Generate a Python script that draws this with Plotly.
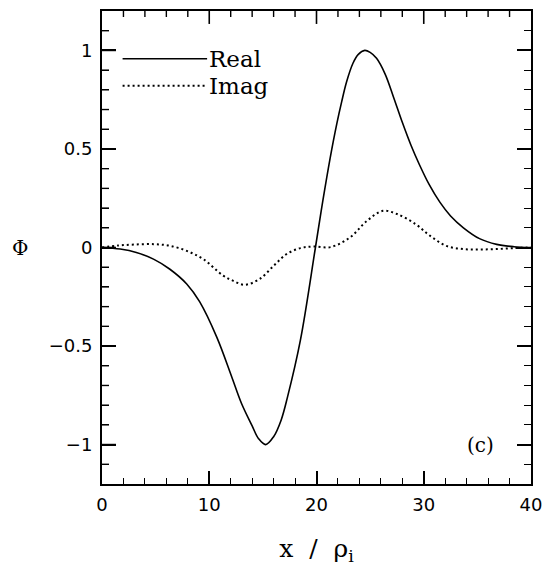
import plotly.graph_objects as go

# --- data ---
x_real = [0, 1.7, 3.2, 4.8, 6.3, 7.9, 9.1, 10.7, 12.1, 13.0, 14.0, 14.6, 15.26,
          16.0, 16.7, 17.3, 18.5, 19.9, 20.6, 21.26, 21.9, 22.35, 22.8, 23.4,
          23.9, 24.5, 25.0, 25.6, 26.4, 27.2, 28.0, 28.8, 29.6, 30.5, 31.5,
          32.5, 33.7, 35.2, 36.8, 38.4, 40]
y_real = [0, -0.008, -0.025, -0.059, -0.109, -0.185, -0.275, -0.455, -0.657,
          -0.79, -0.905, -0.97, -1.0, -0.96, -0.876, -0.758, -0.47, 0.0, 0.24,
          0.45, 0.63, 0.74, 0.84, 0.935, 0.98, 1.0, 0.99, 0.96, 0.88, 0.76,
          0.635, 0.52, 0.42, 0.32, 0.23, 0.16, 0.10, 0.045, 0.016, 0.004, 0.0]

x_imag = [0, 1.5, 3, 4.8, 6.3, 7.9, 9.45, 11.3, 12.2, 13.3, 14.7, 16, 17.2,
          18.5, 19.7, 21.3, 23.1, 24.7, 26.2, 27.5, 29.2, 30.6, 32.1, 33.7,
          35.2, 36.8, 38.4, 40]
y_imag = [0, 0.01, 0.015, 0.017, 0.009, -0.017, -0.059, -0.143, -0.168, -0.189,
          -0.16, -0.093, -0.034, -0.003, 0.005, 0.002, 0.05, 0.135, 0.186, 0.17,
          0.12, 0.059, 0.008, -0.008, -0.01, -0.008, -0.003, 0.0]

x_ticks = [0, 10, 20, 30, 40]
x_ticktext = ["0", "10", "20", "30", "40"]
y_ticks = [-1, -0.5, 0, 0.5, 1]
y_ticktext = ["\u22121", "\u22120.5", "0", "0.5", "1"]
x_minor_step = 2
y_minor_step = 0.1

series_names = ["Real", "Imag"]
panel_label = "(c)"

X_RANGE = [0, 40]
Y_RANGE = [-1.2, 1.2]

SERIF = "DejaVu Serif"
SANS = "DejaVu Sans"

fig = go.Figure()
fig.add_trace(go.Scatter(x=x_real, y=y_real, mode="lines", name=series_names[0],
                         line=dict(color="black", width=1.6, shape="spline", smoothing=1.0),
                         showlegend=False))
fig.add_trace(go.Scatter(x=x_imag, y=y_imag, mode="lines", name=series_names[1],
                         line=dict(color="black", width=2, dash="2px,3px", shape="spline"),
                         showlegend=False))

# manual legend (long sample lines like the reference)
leg_y = [0.899, 0.842]
leg_dash = ["solid", "2px,3px"]
leg_w = [1.4, 2]
for name, ly, dsh, w in zip(series_names, leg_y, leg_dash, leg_w):
    fig.add_shape(type="line", xref="x domain", yref="y domain",
                  x0=0.048, x1=0.245, y0=ly, y1=ly,
                  line=dict(color="black", width=w, dash=dsh))
    fig.add_annotation(xref="x domain", yref="y domain", x=0.245, y=ly,
                       text=name, showarrow=False, xanchor="left", yanchor="middle",
                       font=dict(family=SERIF, size=23, color="black"))

fig.add_annotation(x=35.3, y=-1.0, text=panel_label, showarrow=False,
                   xanchor="center", yanchor="middle",
                   font=dict(family=SERIF, size=20, color="black"))

# y-axis label (unrotated)
fig.add_annotation(xref="paper", yref="y", x=-0.19, y=0, text="\u03a6",
                   showarrow=False, xanchor="center", yanchor="middle",
                   font=dict(family=SERIF, size=20, color="black"))

# inward tick marks on left and top edges, placed at the axis tick values
PLOT_W, PLOT_H = 552 - 102 - 21, 567 - 9 - 83
x_minor_vals = [X_RANGE[0] + i * x_minor_step
                for i in range(int(round((X_RANGE[1] - X_RANGE[0]) / x_minor_step)) + 1)]
y_minor_vals = [round(Y_RANGE[0] + i * y_minor_step, 6)
                for i in range(int(round((Y_RANGE[1] - Y_RANGE[0]) / y_minor_step)) + 1)]
for v in x_minor_vals:
    major = any(abs(v - t) < 1e-9 for t in x_ticks)
    ln = (13 if major else 6) / PLOT_H
    if X_RANGE[0] < v < X_RANGE[1]:
        fig.add_shape(type="line", xref="x", yref="y domain", x0=v, x1=v, y0=1, y1=1 - ln,
                      line=dict(color="black", width=1.6 if major else 1.4))
for v in y_minor_vals:
    major = any(abs(v - t) < 1e-9 for t in y_ticks)
    ln = (14 if major else 7) / PLOT_W
    if Y_RANGE[0] < v < Y_RANGE[1]:
        fig.add_shape(type="line", xref="x domain", yref="y", x0=0, x1=ln, y0=v, y1=v,
                      line=dict(color="black", width=1.6 if major else 1.4))

x_minor_in = dict(dtick=x_minor_step, ticks="inside", ticklen=6, tickcolor="black", tickwidth=1.4)
y_minor_in = dict(dtick=y_minor_step, ticks="inside", ticklen=7, tickcolor="black", tickwidth=1.4)

tick_only = dict(showticklabels=False, showgrid=False, zeroline=False, showline=False,
                 tickmode="array", tickwidth=1.6, tickcolor="black")

fig.update_layout(
    xaxis=dict(range=X_RANGE, tickmode="array", tickvals=x_ticks, ticktext=x_ticktext,
               ticks="inside", ticklen=13, tickwidth=1.6, tickcolor="black",
               minor=x_minor_in, ticklabelstandoff=3,
               showgrid=False, zeroline=False, showline=True, linecolor="black",
               linewidth=2, mirror=True,
               tickfont=dict(family=SANS, size=18, color="black"),
               title=dict(text="x\u00a0\u00a0/\u00a0\u00a0\u03c1<sub>i</sub>", standoff=26,
                          font=dict(family=SERIF, size=25, color="black"))),
    yaxis=dict(range=Y_RANGE, tickmode="array", tickvals=y_ticks, ticktext=y_ticktext,
               ticks="inside", ticklen=14, tickwidth=1.6, tickcolor="black",
               minor=y_minor_in, ticklabelstandoff=4,
               showgrid=False, zeroline=False, showline=True, linecolor="black",
               linewidth=2, mirror=True,
               tickfont=dict(family=SANS, size=18, color="black")),
    # right ticks pointing left into the frame
    yaxis2=dict(range=Y_RANGE, overlaying="y", matches="y", side="right", anchor="x",
                tickvals=y_ticks, ticks="inside", ticklen=14, minor=y_minor_in,
                **tick_only),
    width=552, height=567, autosize=False,
    margin=dict(l=102, r=21, t=9, b=83),
    paper_bgcolor="white", plot_bgcolor="white",
    showlegend=False,
)

fig.add_trace(go.Scatter(x=X_RANGE, y=Y_RANGE, xaxis="x", yaxis="y2", mode="lines",
                         line=dict(width=0, color="rgba(0,0,0,0)"), hoverinfo="skip",
                         showlegend=False))

fig.write_html("out.html", config={"displayModeBar": False},
               post_script="document.body.style.margin='0';document.body.style.overflow='hidden';")
